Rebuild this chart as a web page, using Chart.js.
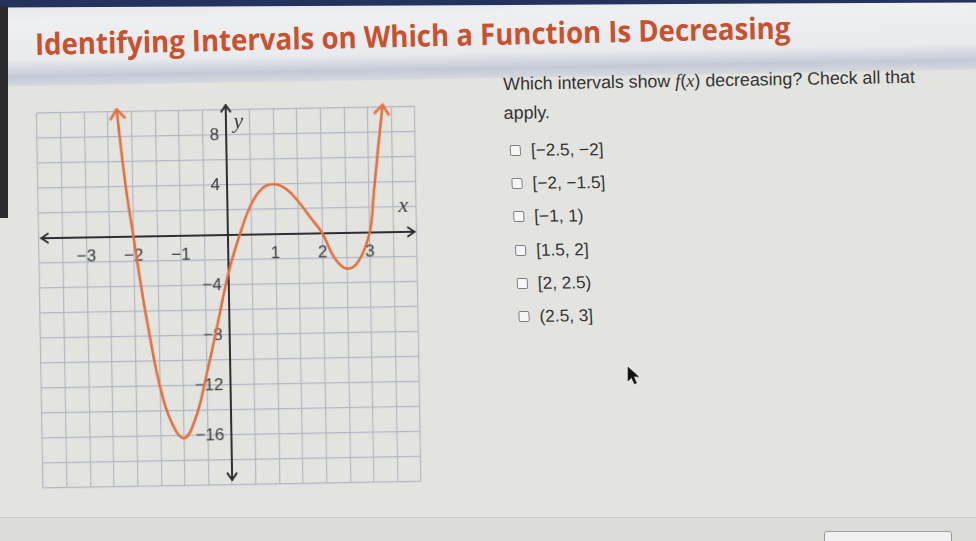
<!DOCTYPE html>
<html><head><meta charset="utf-8">
<script src="https://cdn.jsdelivr.net/npm/chart.js@4.4.0/dist/chart.umd.min.js"></script>
<style>
html,body{margin:0;padding:0;}
body{width:976px;height:541px;overflow:hidden;position:relative;background:#e3e4df;font-family:"Liberation Sans",Arial,sans-serif;color:#333;}
#band{position:absolute;left:-30px;top:-2px;width:1040px;height:80px;background:linear-gradient(#e9eaee 0%,#eeeff1 20%,#eaebee 68%,#c3c9d4 88%,#d6d9de 100%);transform:rotate(-1deg);transform-origin:50% 50%;}
#topbar{position:absolute;left:-20px;top:-4px;width:1020px;height:9px;background:#23335e;transform:rotate(-0.3deg);}
#leftstrip{position:absolute;left:0;top:6px;width:8px;height:212px;background:#2b2b2e;}
#title{position:absolute;left:35px;top:29px;font:bold 30px "Open Sans",sans-serif;line-height:30px;color:#c9512d;white-space:nowrap;transform-origin:0 50%;}
#question{position:absolute;left:503px;top:70px;font-size:17.8px;line-height:29px;color:#333;transform:rotate(-1deg);transform-origin:0 0;white-space:nowrap;}
#question i{font-family:"Liberation Serif",serif;font-size:18.5px;}
#opts{position:absolute;left:509px;top:134px;transform:skewX(2.4deg) rotate(-0.6deg);transform-origin:0 0;}
.opt{height:33.2px;display:flex;align-items:center;font-size:17.2px;color:#333;white-space:nowrap;}
.box{width:9px;height:9px;border:1.5px solid #7d7f86;border-radius:2px;background:#f7f7f7;margin-right:10px;}
#gwrap{position:absolute;left:0;top:80px;width:460px;height:440px;transform:rotate(-1deg);transform-origin:229px 217px;}
#bottomline{position:absolute;left:0;top:517px;width:976px;height:24px;background:#dcddd9;border-top:1px solid #c9cac6;}
#btn{position:absolute;left:824px;top:531px;width:126px;height:16px;border:1px solid #9a9b9e;border-radius:3px;background:#f1f1f1;}
#cursor{position:absolute;left:627px;top:366px;}
</style></head>
<body>
<div id="band"></div>
<div id="topbar"></div>
<div id="leftstrip"></div>
<div id="title">Identifying Intervals on Which a Function Is Decreasing</div>
<div id="question">Which intervals show <i>f</i>(<i>x</i>) decreasing? Check all that<br>apply.</div>
<div id="opts"></div>
<div id="gwrap"><canvas id="c" width="460" height="440"></canvas></div>
<div id="bottomline"></div>
<div id="btn"></div>
<svg id="cursor" width="14" height="20" viewBox="0 0 14 20"><path d="M1 1 L1 15 L4.5 11.5 L7.5 18 L9.5 17 L6.7 10.6 L11.5 10.6 Z" fill="#111" stroke="#333" stroke-width="0.6"/></svg>
<script>
// ---- data ----
const curveX = [-2.31, -2.15, -2.0, -1.87, -1.75, -1.5, -1.25, -1.0, -0.75, -0.5, -0.25, 0, 0.25, 0.5, 0.75, 1.0, 1.25, 1.5, 1.75, 2.0, 2.25, 2.5, 2.75, 3.0, 3.1, 3.2, 3.32];
const curveY = [10.2, 4.2, 0, -3.6, -6.6, -11.9, -15.0, -16.2, -14.6, -11.1, -7.1, -3.0, 0, 2.4, 3.7, 4.0, 3.6, 2.6, 1.3, 0, -2.0, -2.85, -2.3, 0, 3.1, 6.4, 10.2];
const xTickLabels = [-3, -2, -1, 1, 2, 3];
const yTickLabels = [8, 4, -4, -8, -12, -16];
const answerChoices = ["[−2.5, −2]", "[−2, −1.5]", "[−1, 1)", "[1.5, 2]", "[2, 2.5)", "(2.5, 3]"];
const titleText = "Identifying Intervals on Which a Function Is Decreasing";

// ---- page text ----
const t = document.getElementById('title');
t.textContent = titleText;
const s = 755 / t.offsetWidth;
t.style.transform = 'rotate(-1.25deg) scaleX(' + s + ')';
const opts = document.getElementById('opts');
answerChoices.forEach(a => {
  const d = document.createElement('div'); d.className = 'opt';
  d.innerHTML = '<span class="box"></span><span>' + a + '</span>';
  opts.appendChild(d);
});

const fmt = v => (v < 0 ? '−' + Math.abs(v) : String(v));
const curveColor = '#e2703e';

// chevron arrowhead image for curve ends
const chev = document.createElement('canvas');
chev.width = 24; chev.height = 24;
(function(){
  const g = chev.getContext('2d');
  g.strokeStyle = curveColor; g.lineWidth = 2.8; g.lineCap = 'round'; g.lineJoin = 'round';
  g.beginPath(); g.moveTo(5, 21); g.lineTo(12, 12); g.lineTo(19, 21); g.stroke();
})();

function arrowHead(ctx, x, y, ang, len) {
  const a1 = ang + Math.PI - 0.6, a2 = ang + Math.PI + 0.6;
  ctx.beginPath();
  ctx.moveTo(x + len * Math.cos(a1), y + len * Math.sin(a1));
  ctx.lineTo(x, y);
  ctx.lineTo(x + len * Math.cos(a2), y + len * Math.sin(a2));
  ctx.stroke();
}

const axesPlugin = {
  id: 'axesPlugin',
  beforeDatasetsDraw(chart) {
    const ctx = chart.ctx, xs = chart.scales.x, ys = chart.scales.y;
    const x0 = xs.getPixelForValue(0), y0 = ys.getPixelForValue(0);
    ctx.save();
    ctx.strokeStyle = '#2e2e33'; ctx.lineWidth = 2; ctx.lineCap = 'round'; ctx.lineJoin = 'round';
    const xl = xs.getPixelForValue(-3.95), xr = xs.getPixelForValue(3.95);
    ctx.beginPath(); ctx.moveTo(xl, y0); ctx.lineTo(xr, y0); ctx.stroke();
    arrowHead(ctx, xl, y0, Math.PI, 8); arrowHead(ctx, xr, y0, 0, 8);
    const yt = ys.getPixelForValue(10.4), yb = ys.getPixelForValue(-19.6);
    ctx.beginPath(); ctx.moveTo(x0, yt); ctx.lineTo(x0, yb); ctx.stroke();
    arrowHead(ctx, x0, yt, -Math.PI / 2, 8); arrowHead(ctx, x0, yb, Math.PI / 2, 8);
    ctx.fillStyle = '#3a3a3e';
    ctx.font = '17px "Liberation Sans", Arial, sans-serif';
    ctx.textAlign = 'center'; ctx.textBaseline = 'middle';
    xTickLabels.forEach(v => ctx.fillText(fmt(v), xs.getPixelForValue(v), y0 + 19));
    ctx.textAlign = 'right';
    yTickLabels.forEach(v => ctx.fillText(fmt(v), x0 - 7, ys.getPixelForValue(v)));
    ctx.font = 'italic 22px "Liberation Serif", serif';
    ctx.textAlign = 'center';
    ctx.fillText('x', xs.getPixelForValue(3.72), ys.getPixelForValue(2.1));
    ctx.fillText('y', xs.getPixelForValue(0.26), ys.getPixelForValue(9.0));
    ctx.restore();
  }
};

const n = curveX.length;
new Chart(document.getElementById('c'), {
  type: 'scatter',
  data: {
    datasets: [{
      data: curveX.map((x, i) => ({ x: x, y: curveY[i] })),
      showLine: true,
      borderColor: curveColor,
      borderWidth: 2.6,
      tension: 0.4,
      clip: false,
      pointStyle: chev,
      pointRadius: ctx => (ctx.dataIndex === 0 || ctx.dataIndex === n - 1) ? 9 : 0,
      pointRotation: ctx => ctx.dataIndex === 0 ? -6 : 7,
      pointBackgroundColor: curveColor,
      pointBorderColor: curveColor
    }]
  },
  options: {
    responsive: false,
    animation: false,
    devicePixelRatio: 1,
    layout: { padding: { left: 40, right: 42, top: 30, bottom: 35 } },
    plugins: { legend: { display: false }, tooltip: { enabled: false } },
    scales: {
      x: { type: 'linear', min: -4, max: 4, ticks: { display: false, stepSize: 0.5 },
           grid: { color: '#b2b7c5', lineWidth: 1.2, drawTicks: false }, border: { display: false } },
      y: { type: 'linear', min: -20, max: 10, ticks: { display: false, stepSize: 2 },
           grid: { color: '#b2b7c5', lineWidth: 1.2, drawTicks: false }, border: { display: false } }
    }
  },
  plugins: [axesPlugin]
});
</script>
</body></html>
